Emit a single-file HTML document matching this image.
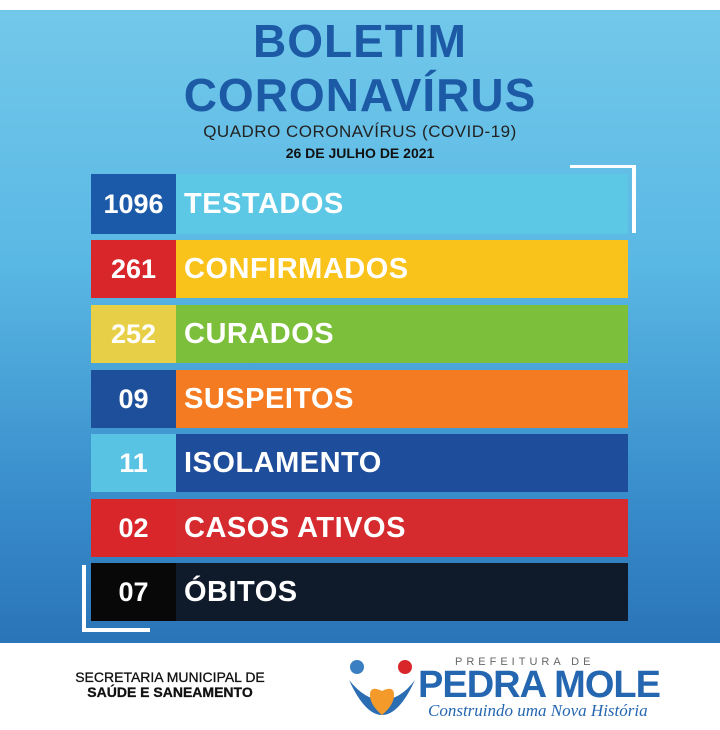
<!DOCTYPE html>
<html><head><meta charset="utf-8"><style>
body{margin:0;width:720px;height:730px;overflow:hidden;font-family:"Liberation Sans",sans-serif;background:#fff;position:relative}
.bg{position:absolute;left:0;top:10px;width:720px;height:633px;background:linear-gradient(180deg,#72c8ea 0%,#5ab8e4 40%,#3a8fcc 75%,#2a74b8 100%)}
.t{position:absolute;left:0;width:720px;text-align:center;color:#1c5aa6;font-weight:bold}
.row{position:absolute;left:91px;width:537px;height:58px;display:flex}
.n{width:85px;display:flex;align-items:center;justify-content:center;color:#fff;font-weight:bold;font-size:27px}
.l{flex:1;display:flex;align-items:center;padding-left:8px;color:#fff;font-weight:bold;font-size:29px;letter-spacing:0.5px}
.w{position:absolute;background:#fff}
</style></head><body>
<div class="bg"></div>
<div class="t" style="top:14px;font-size:46px;letter-spacing:1px">BOLETIM</div>
<div class="t" style="top:68px;font-size:46px;letter-spacing:1px">CORONAVÍRUS</div>
<div class="t" style="top:122px;font-size:17px;font-weight:normal;color:#222;letter-spacing:0.5px">QUADRO CORONAVÍRUS (COVID-19)</div>
<div class="t" style="top:145px;font-size:14px;color:#111">26 DE JULHO DE 2021</div>
<div class="w" style="left:570px;top:165px;width:66px;height:3px"></div>
<div class="w" style="left:632px;top:165px;width:4px;height:68px"></div>
<div class="row" style="top:174px;height:60px"><div class="n" style="background:#1a5aa8">1096</div><div class="l" style="background:#5cc8e6">TESTADOS</div></div>
<div class="row" style="top:240px"><div class="n" style="background:#d8262b">261</div><div class="l" style="background:#f9c31b">CONFIRMADOS</div></div>
<div class="row" style="top:305px"><div class="n" style="background:#e8cf48">252</div><div class="l" style="background:#7bbf3b">CURADOS</div></div>
<div class="row" style="top:370px"><div class="n" style="background:#1e4f9a">09</div><div class="l" style="background:#f47b21">SUSPEITOS</div></div>
<div class="row" style="top:434px"><div class="n" style="background:#58c3e2">11</div><div class="l" style="background:#1d4d9b">ISOLAMENTO</div></div>
<div class="row" style="top:499px"><div class="n" style="background:#d8262b">02</div><div class="l" style="background:#d52a2e">CASOS ATIVOS</div></div>
<div class="row" style="top:563px"><div class="n" style="background:#080808">07</div><div class="l" style="background:#0f1a2b">ÓBITOS</div></div>
<div class="w" style="left:82px;top:565px;width:4px;height:67px"></div>
<div class="w" style="left:82px;top:628px;width:68px;height:4px"></div>
<div style="position:absolute;left:50px;top:670px;width:240px;text-align:center;font-size:14px;line-height:15px;color:#111;-webkit-text-stroke:0.3px #111">SECRETARIA MUNICIPAL DE<br><b>SAÚDE E SANEAMENTO</b></div>
<svg style="position:absolute;left:345px;top:655px" width="75" height="65"><circle cx="12" cy="12" r="7" fill="#3a7fc2"/><circle cx="60" cy="12" r="7" fill="#d8262b"/><path d="M4 25 Q20 60 37 60 Q54 60 70 25 Q55 45 37 45 Q20 45 4 25Z" fill="#2a6db3"/><path d="M37 60 Q25 50 25 40 Q25 30 37 36 Q49 30 49 40 Q49 50 37 60Z" fill="#f39a2a"/></svg>
<div style="position:absolute;left:455px;top:656px;font-size:11px;letter-spacing:4px;color:#666">PREFEITURA DE</div>
<div style="position:absolute;left:418px;top:664px;font-size:38px;font-weight:bold;color:#2466b0;letter-spacing:-1px">PEDRA MOLE</div>
<div style="position:absolute;left:428px;top:701px;font-size:17px;font-style:italic;font-family:'Liberation Serif',serif;color:#2466b0">Construindo uma Nova História</div>
</body></html>
